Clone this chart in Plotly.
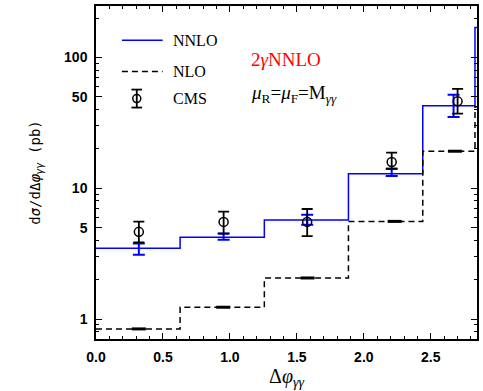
import plotly.graph_objects as go

# Bin edges (Δφγγ) and histogram values
edges = [0.0, 0.628, 1.257, 1.885, 2.44, 2.83, 2.98]
nnlo = [3.48, 4.22, 5.72, 12.9, 42.8, 170.0]
nlo = [0.84, 1.23, 2.06, 5.58, 19.2, 42.0]

# NNLO uncertainty bars
nnlo_x = [0.32, 0.953, 1.577, 2.208, 2.67]
nnlo_c = [3.45, 4.25, 5.75, 13.2, 42.5]
nnlo_hi = [3.78, 4.50, 6.28, 14.1, 51.9]
nnlo_lo = [3.10, 4.03, 5.27, 12.4, 35.1]

# NLO (tiny) uncertainty marks
nlo_x = [0.32, 0.95, 1.58, 2.23, 2.68]

# CMS data
cms_x = [0.32, 0.953, 1.577, 2.208, 2.70]
cms_y = [4.64, 5.53, 5.53, 15.9, 46.2]
cms_hi = [5.55, 6.62, 6.94, 18.7, 57.6]
cms_lo = [3.85, 4.50, 4.30, 14.1, 37.2]

legend_labels = ["NNLO", "NLO", "CMS"]


def step(edges, vals):
    xs, ys = [], []
    for i, v in enumerate(vals):
        xs += [edges[i], edges[i + 1]]
        ys += [v, v]
    return xs, ys

fig = go.Figure()

xs, ys = step(edges, nnlo)
fig.add_trace(go.Scatter(x=xs, y=ys, mode="lines", name="NNLO",
                         line=dict(color="#0000ff", width=1.5)))
xs, ys = step(edges, nlo)
fig.add_trace(go.Scatter(x=xs, y=ys, mode="lines", name="NLO",
                         line=dict(color="black", width=1.5, dash="6px,4px")))

fig.add_trace(go.Scatter(
    x=nnlo_x, y=nnlo_c, mode="markers", showlegend=False,
    marker=dict(size=1, color="rgba(0,0,0,0)"),
    error_y=dict(type="data", symmetric=False,
                 array=[h - c for h, c in zip(nnlo_hi, nnlo_c)],
                 arrayminus=[c - l for c, l in zip(nnlo_c, nnlo_lo)],
                 color="#0000ff", thickness=2, width=6)))

fig.add_trace(go.Scatter(
    x=nlo_x, y=nlo[:5], mode="markers", showlegend=False,
    marker=dict(symbol="line-ew", size=10, line=dict(color="black", width=3))))

fig.add_trace(go.Scatter(
    x=cms_x, y=cms_y, mode="markers", name="CMS",
    marker=dict(symbol="circle-open", size=9, color="black", line=dict(width=1.5)),
    error_y=dict(type="data", symmetric=False,
                 array=[h - c for h, c in zip(cms_hi, cms_y)],
                 arrayminus=[c - l for c, l in zip(cms_y, cms_lo)],
                 color="black", thickness=1.8, width=5.5)))

# ---- hand-drawn legend (paper coordinates) ----
leg_x0, leg_x1, leg_tx = 0.068, 0.175, 0.196
leg_y = [0.897, 0.803, 0.722]
fig.add_shape(type="line", xref="paper", yref="paper",
              x0=leg_x0, x1=leg_x1, y0=leg_y[0], y1=leg_y[0],
              line=dict(color="#0000ff", width=1.5))
fig.add_shape(type="line", xref="paper", yref="paper",
              x0=leg_x0, x1=leg_x1, y0=leg_y[1], y1=leg_y[1],
              line=dict(color="black", width=1.5, dash="6px,4px"))
cx = 0.107
fig.add_shape(type="circle", xref="paper", yref="paper",
              xsizemode="pixel", ysizemode="pixel", xanchor=cx, yanchor=leg_y[2],
              x0=-4, x1=4, y0=-4, y1=4, line=dict(color="black", width=1.5))
fig.add_shape(type="line", xref="paper", yref="paper",
              x0=cx, x1=cx, y0=leg_y[2] - 0.027, y1=leg_y[2] + 0.027,
              line=dict(color="black", width=1.8))
for yy in (leg_y[2] - 0.027, leg_y[2] + 0.027):
    fig.add_shape(type="line", xref="paper", yref="paper",
                  x0=cx - 0.014, x1=cx + 0.014, y0=yy, y1=yy,
                  line=dict(color="black", width=1.8))
for lab, yy in zip(legend_labels, leg_y):
    fig.add_annotation(x=leg_tx, y=yy, xref="paper", yref="paper",
                       xanchor="left", yanchor="middle", showarrow=False,
                       text=lab,
                       font=dict(family="Liberation Serif", size=16, color="black"))

tickfont = dict(family="Liberation Sans", size=14, color="black", weight="bold")

fig.update_layout(
    width=483, height=391,
    margin=dict(l=96, r=4, t=4, b=52),
    plot_bgcolor="white", paper_bgcolor="white",
    showlegend=False,
    xaxis=dict(range=[0, 2.845], showgrid=False, zeroline=False,
               showline=True, linecolor="black", linewidth=1.5, mirror="ticks",
               ticks="inside", ticklen=6, tickwidth=1.2, tickcolor="black",
               tickvals=[0, 0.5, 1.0, 1.5, 2.0, 2.5],
               ticktext=["0.0", "0.5", "1.0", "1.5", "2.0", "2.5"],
               tickfont=tickfont, ticklabelstandoff=4,
               minor=dict(dtick=0.1, ticks="inside", ticklen=3, tickcolor="black",
                          tickwidth=1, showgrid=False),
               title=dict(text="Δ<i>φ</i><sub><i>γγ</i></sub>",
                          font=dict(family="Liberation Serif", size=20, color="black"),
                          standoff=4)),
    yaxis=dict(type="log", range=[-0.153, 2.394], showgrid=False, zeroline=False,
               showline=True, linecolor="black", linewidth=1.5, mirror="ticks",
               ticks="inside", ticklen=6, tickwidth=1.2, tickcolor="black",
               tickvals=[1, 5, 10, 50, 100],
               ticktext=["1", "5", "10", "50", "100"],
               tickfont=tickfont, ticklabelstandoff=4,
               minor=dict(tickvals=[0.8, 0.9, 2, 3, 4, 6, 7, 8, 9, 20, 30, 40,
                                    60, 70, 80, 90, 200],
                          ticks="inside", ticklen=3, tickcolor="black",
                          tickwidth=1, showgrid=False),
               title=dict(text="d<i>σ</i>/dΔ<i>φ</i><sub><i>γγ</i></sub> (pb)",
                          font=dict(family="DejaVu Sans Mono", size=14, color="black"),
                          standoff=20)),
)

fig.add_annotation(x=0.402, y=0.839, xref="paper", yref="paper",
                   xanchor="left", yanchor="middle", showarrow=False,
                   text="2<i>γ</i>NNLO",
                   font=dict(family="Liberation Serif", size=19, color="red"))
fig.add_annotation(x=0.402, y=0.737, xref="paper", yref="paper",
                   xanchor="left", yanchor="middle", showarrow=False,
                   text="<i>μ</i><sub>R</sub>=<i>μ</i><sub>F</sub>=M<sub><i>γγ</i></sub>",
                   font=dict(family="Liberation Serif", size=19, color="black"))

fig.write_html("out.html", config={"displayModeBar": False},
               post_script="document.body.style.margin='0px';")
